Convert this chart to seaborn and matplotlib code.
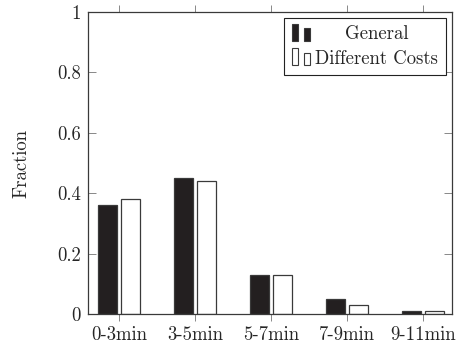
import matplotlib
matplotlib.use("Agg")
import matplotlib.pyplot as plt
import matplotlib.patches as mpatches
from matplotlib.legend_handler import HandlerBase
import seaborn as sns
import pandas as pd

categories = ["0-3min", "3-5min", "5-7min", "7-9min", "9-11min"]
general = [0.36, 0.45, 0.13, 0.05, 0.01]
different_costs = [0.38, 0.44, 0.13, 0.03, 0.01]
series_names = ["General", "Different Costs"]
y_ticks = [0, 0.2, 0.4, 0.6, 0.8, 1]
y_tick_labels = ["0", "0.2", "0.4", "0.6", "0.8", "1"]

DARK = "#231f20"
EDGE = "#3a3a3a"

df = pd.DataFrame({
    "Range": categories * 2,
    "Fraction": general + different_costs,
    "Series": [series_names[0]] * len(categories) + [series_names[1]] * len(categories),
})

sns.set_theme(style="ticks")
plt.rcParams["font.family"] = ["cmr10", "DejaVu Serif"]
plt.rcParams["axes.formatter.use_mathtext"] = True

fig = plt.figure(figsize=(4.58, 3.47), dpi=100)
ax = fig.add_axes([88 / 458, 1 - 314 / 347, 364 / 458, 302 / 347])

sns.barplot(
    data=df, x="Range", y="Fraction", hue="Series", order=categories,
    hue_order=series_names, palette=[DARK, "white"], width=0.6, gap=0.16,
    edgecolor=EDGE, linewidth=0.9, saturation=1, ax=ax, legend=False,
)

ax.set_xlim(-0.41, 4.38)
ax.set_ylim(0, 1)
ax.set_yticks(y_ticks)
ax.set_yticklabels(y_tick_labels)
ax.set_xlabel("")
ax.set_ylabel("Fraction", fontsize=13.5)
ax.yaxis.set_label_coords(-0.157, 0.5)

for side in ["left", "right", "top", "bottom"]:
    ax.spines[side].set_visible(True)
    ax.spines[side].set_color(EDGE)
    ax.spines[side].set_linewidth(0.9)

ax.tick_params(axis="x", direction="out", length=5, width=0.7, color="#888888",
               top=True, labeltop=False, labelsize=13.5, pad=4)
ax.tick_params(axis="y", direction="in", length=6, width=0.7, color="#888888",
               right=True, labelsize=13.5, pad=5)


class TwinBarHandler(HandlerBase):
    """Legend key made of two small bars, as pgfplots draws for ybar plots."""

    def __init__(self, face):
        super().__init__()
        self.face = face

    def create_artists(self, legend, orig_handle, xdescent, ydescent,
                       width, height, fontsize, trans):
        bw = width * 0.28
        h1 = height * 1.3
        h2 = height * 0.95
        y0 = -ydescent - height * 0.1
        r1 = mpatches.Rectangle((-xdescent, y0), bw, h1, facecolor=self.face,
                                edgecolor=EDGE, linewidth=0.8, transform=trans)
        r2 = mpatches.Rectangle((-xdescent + width * 0.6, y0), bw, h2,
                                facecolor=self.face, edgecolor=EDGE,
                                linewidth=0.8, transform=trans)
        return [r1, r2]


h_general = mpatches.Patch(facecolor=DARK)
h_diff = mpatches.Patch(facecolor="white")
leg = ax.legend(
    [h_general, h_diff], series_names,
    handler_map={h_general: TwinBarHandler(DARK), h_diff: TwinBarHandler("white")},
    loc="upper right", bbox_to_anchor=(0.983, 0.98), borderaxespad=0,
    fontsize=13.5, frameon=True, fancybox=False, framealpha=1,
    edgecolor="#222222", handlelength=1.1, handletextpad=0.15,
    labelspacing=0.35, borderpad=0.4,
)
leg.get_frame().set_linewidth(0.8)

# centre the shorter legend label over the longer one
fig.canvas.draw()
texts = leg.get_texts()
w0 = texts[0].get_window_extent().width
w1 = texts[1].get_window_extent().width
texts[0].set_x((w1 - w0) / 2)

fig.savefig("out.png", dpi=100)
